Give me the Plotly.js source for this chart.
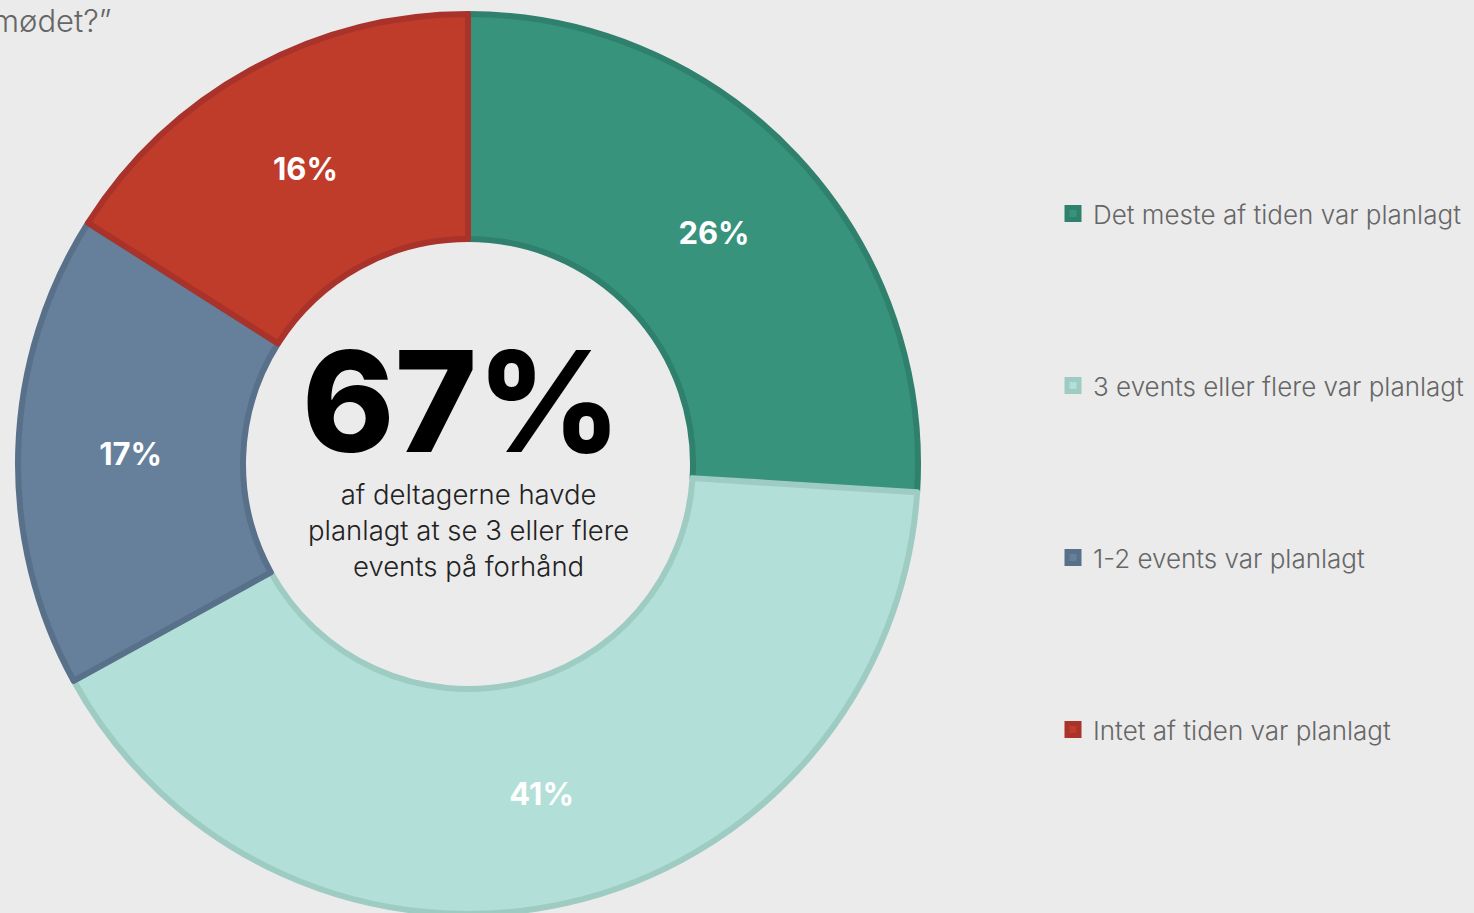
<!DOCTYPE html>
<html>
<head>
<meta charset="utf-8">
<script src="https://cdn.plot.ly/plotly-3.0.1.min.js"></script>
<style>
html,body{margin:0;padding:0;background:#ebebeb;overflow:hidden;}
#chart{width:1474px;height:940px;}
</style>
</head>
<body>
<div id="chart"></div>
<script>
const categories = ["Det meste af tiden var planlagt", "3 events eller flere var planlagt", "1-2 events var planlagt", "Intet af tiden var planlagt"];
const shares = [26, 41, 17, 16];
const sliceColors = ["#38937d", "#b2dfd8", "#667f9a", "#bf3b2a"];
const borderColors = ["#2f806c", "#9ecbc2", "#587089", "#a9322a"];
const centerValue = "67%";
const centerText = "af deltagerne havde<br>planlagt at se 3 eller flere<br>events på forhånd";
const titleFragment = "mødet?”";

const W = 1474, H = 940;
const cx = 468, cy = 464, R = 450;

const legendLabels = categories.map(c => [" ", " ", c, " ", " "].join("<br>"));

const trace = {
  type: "pie",
  labels: legendLabels,
  values: shares,
  sort: false,
  direction: "clockwise",
  rotation: 0,
  hole: 0.5,
  domain: {x: [(cx - R) / W, (cx + R) / W], y: [(H - cy - R) / H, (H - cy + R) / H]},
  marker: {colors: sliceColors, line: {color: borderColors, width: 6}},
  texttemplate: "%{value}%",
  textposition: "inside",
  insidetextorientation: "horizontal",
  textfont: {family: "Inter, 'Open Sans', sans-serif", size: 31, color: "#ffffff", weight: 700},
  hoverinfo: "none"
};

const layout = {
  width: W, height: H,
  margin: {l: 0, r: 0, t: 0, b: 0},
  paper_bgcolor: "#ebebeb",
  plot_bgcolor: "#ebebeb",
  showlegend: true,
  legend: {
    x: 1053 / W, xanchor: "left",
    y: 1 - 472 / H, yanchor: "middle",
    bgcolor: "rgba(0,0,0,0)",
    font: {family: "Inter, 'Open Sans', sans-serif", size: 26, color: "#666666", weight: 300},
    itemclick: false
  },
  annotations: [
    {text: centerValue, x: 461 / W, y: 1 - 401 / H, xref: "paper", yref: "paper",
     xanchor: "center", yanchor: "middle", showarrow: false,
     font: {family: "Inter, 'Open Sans', sans-serif", size: 140, color: "#000000", weight: 800}},
    {text: centerText, x: cx / W, y: 1 - 530 / H, xref: "paper", yref: "paper",
     xanchor: "center", yanchor: "middle", showarrow: false, align: "center",
     font: {family: "Inter, 'Open Sans', sans-serif", size: 27.5, color: "#222222", weight: 300}},
    {text: titleFragment, x: 113 / W, y: 1 - 20 / H, xref: "paper", yref: "paper",
     xanchor: "right", yanchor: "middle", showarrow: false,
     font: {family: "Inter, 'Open Sans', sans-serif", size: 31, color: "#666666", weight: 300}}
  ]
};

Plotly.newPlot("chart", [trace], layout, {displayModeBar: false, staticPlot: true});
</script>
</body>
</html>
